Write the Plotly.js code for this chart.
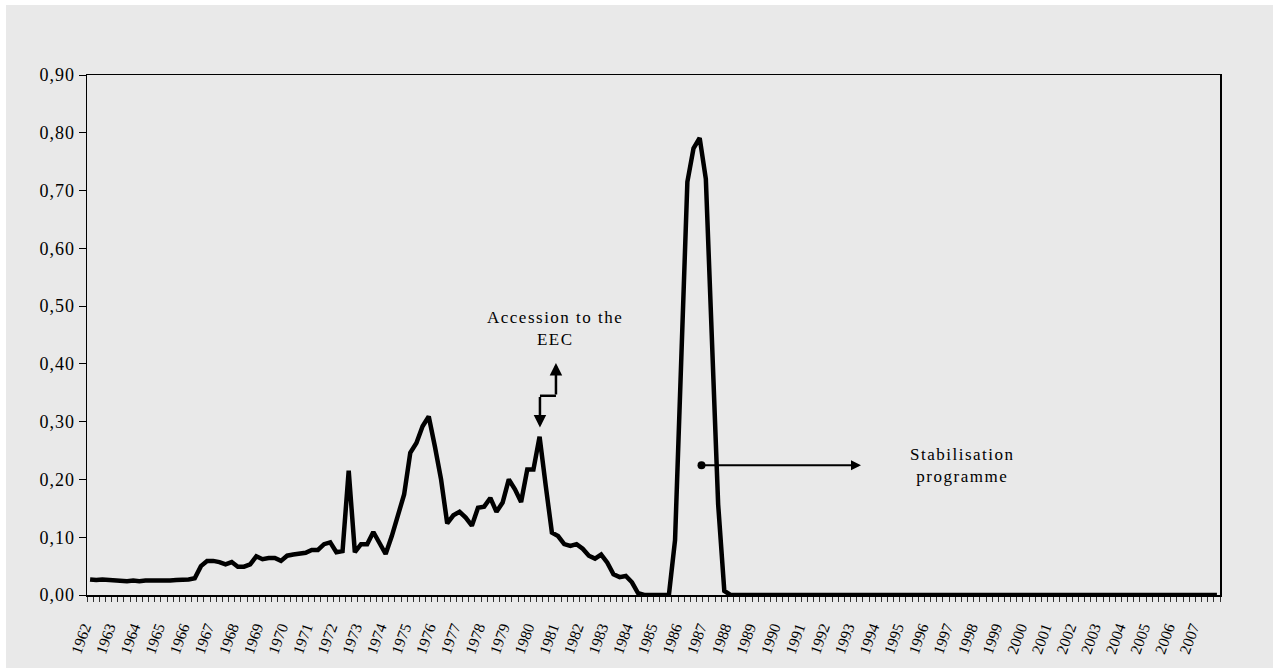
<!DOCTYPE html>
<html>
<head>
<meta charset="utf-8">
<script src="https://cdn.plot.ly/plotly-3.0.1.min.js"></script>
<style>
  html, body { margin: 0; padding: 0; background: #ffffff; width: 1273px; height: 668px; overflow: hidden; }
  #chart { position: absolute; left: 6px; top: 5px; width: 1267px; height: 663px; }
  .annotation-text { letter-spacing: 1.5px; }
  .ytick text { letter-spacing: 1px; }
</style>
</head>
<body>
<div id="chart"></div>
<script>
// Year tick labels (one per year, placed on the first quarter)
const yearLabels = ["1962","1963","1964","1965","1966","1967","1968","1969","1970","1971",
  "1972","1973","1974","1975","1976","1977","1978","1979","1980","1981",
  "1982","1983","1984","1985","1986","1987","1988","1989","1990","1991",
  "1992","1993","1994","1995","1996","1997","1998","1999","2000","2001",
  "2002","2003","2004","2005","2006","2007"];

// Quarterly series 1962Q1 .. 2007Q4
const seriesValues = [
  0.027,0.026,0.027,0.026, 0.025,0.025,0.024,0.025, 0.024,0.025,0.025,0.024, 0.025,0.025,0.026,0.026,
  0.027,0.029,0.050,0.059, 0.059,0.057,0.053,0.057, 0.049,0.049,0.053,0.067, 0.062,0.064,0.064,0.059,
  0.068,0.070,0.072,0.073, 0.078,0.078,0.088,0.091, 0.074,0.076,0.215,0.074, 0.088,0.088,0.109,0.091,
  0.071,0.102,0.140,0.174, 0.246,0.263,0.292,0.309, 0.257,0.200,0.124,0.138, 0.144,0.134,0.120,0.151,
  0.153,0.168,0.144,0.160, 0.200,0.183,0.161,0.217, 0.217,0.274,0.189,0.108, 0.102,0.088,0.085,0.088,
  0.080,0.068,0.063,0.070, 0.056,0.036,0.031,0.033, 0.022,0.003,0.000,0.000, 0.000,0.000,0.000,0.095,
  0.400,0.715,0.773,0.791, 0.720,0.440,0.157,0.007, 0.000,0.000,0.000,0.000, 0.000,0.000,0.000,0.000,
  0.000,0.000,0.000,0.000, 0.000,0.000,0.000,0.000, 0.000,0.000,0.000,0.000, 0.000,0.000,0.000,0.000,
  0.000,0.000,0.000,0.000, 0.000,0.000,0.000,0.000, 0.000,0.000,0.000,0.000, 0.000,0.000,0.000,0.000,
  0.000,0.000,0.000,0.000, 0.000,0.000,0.000,0.000, 0.000,0.000,0.000,0.000, 0.000,0.000,0.000,0.000,
  0.000,0.000,0.000,0.000, 0.000,0.000,0.000,0.000, 0.000,0.000,0.000,0.000, 0.000,0.000,0.000,0.000,
  0.000,0.000,0.000,0.000, 0.000,0.000,0.000,0.000
];

// Annotation texts
const accessionText = "Accession to the<br>EEC";
const stabilisationText = "Stabilisation<br>programme";

const quarterIndex = seriesValues.map((_, i) => i);
const yearTickPos = yearLabels.map((_, k) => k * 4);

const FONT = "Liberation Serif, Times New Roman, serif";
const BG = "#e9e9e9";

const trace = {
  x: quarterIndex,
  y: seriesValues,
  type: "scatter",
  mode: "lines",
  line: { color: "#000000", width: 4.5 },
  hoverinfo: "skip"
};

const layout = {
  width: 1267,
  height: 663,
  margin: { l: 81, r: 53, t: 70, b: 73 },
  paper_bgcolor: BG,
  plot_bgcolor: BG,
  separators: ",.",
  showlegend: false,
  font: { family: FONT, color: "#000000" },
  xaxis: {
    range: [-0.5, quarterIndex.length - 0.5],
    tickmode: "array",
    tickvals: yearTickPos,
    ticktext: yearLabels,
    tickangle: -70,
    ticks: "",
    ticklabelstandoff: 16,
    ticklabelshift: -6,
    tickfont: { family: FONT, size: 15.5, color: "#000" },
    minor: { tick0: -0.5, dtick: 1, ticks: "outside", ticklen: 5, tickwidth: 1, tickcolor: "#333", showgrid: false },
    showgrid: false,
    zeroline: false,
    showline: true,
    linecolor: "#000",
    linewidth: 1.5,
    mirror: true
  },
  yaxis: {
    range: [0, 0.9],
    dtick: 0.1,
    tick0: 0,
    tickformat: ".2f",
    ticks: "outside",
    ticklen: 7,
    tickwidth: 1,
    tickcolor: "#000",
    tickfont: { family: FONT, size: 18, color: "#000" },
    showgrid: false,
    zeroline: false,
    showline: true,
    linecolor: "#000",
    linewidth: 1.5,
    mirror: true
  },
  annotations: [
    { x: 75.5, y: 0.462, xref: "x", yref: "y", text: accessionText, showarrow: false,
      xanchor: "center", yanchor: "middle", font: { family: FONT, size: 17, color: "#000" } },
    { x: 75.66, y: 0.4017, xref: "x", yref: "y", text: "", showarrow: true,
      ax: 0, ay: 33, arrowhead: 2, arrowsize: 1, arrowwidth: 2.5, arrowcolor: "#000", standoff: 0 },
    { x: 73.06, y: 0.290, xref: "x", yref: "y", text: "", showarrow: true,
      ax: 0, ay: -32, arrowhead: 2, arrowsize: 1, arrowwidth: 2.5, arrowcolor: "#000", standoff: 0 },
    { x: 125.2, y: 0.2247, xref: "x", yref: "y", text: "", showarrow: true,
      ax: -161, ay: 0, arrowhead: 2, arrowsize: 1, arrowwidth: 2, arrowcolor: "#000",
      arrowside: "end+start", startarrowhead: 6, startarrowsize: 1, standoff: 0, startstandoff: 0 },
    { x: 141.6, y: 0.2241, xref: "x", yref: "y", text: stabilisationText, showarrow: false,
      xanchor: "center", yanchor: "middle", font: { family: FONT, size: 17, color: "#000" } }
  ],
  shapes: [
    { type: "line", xref: "x", yref: "y", x0: 73.06, x1: 75.66, y0: 0.3448, y1: 0.3448,
      line: { color: "#000", width: 2.5 } }
  ]
};

Plotly.newPlot("chart", [trace], layout, { displayModeBar: false, staticPlot: true });
</script>
</body>
</html>
